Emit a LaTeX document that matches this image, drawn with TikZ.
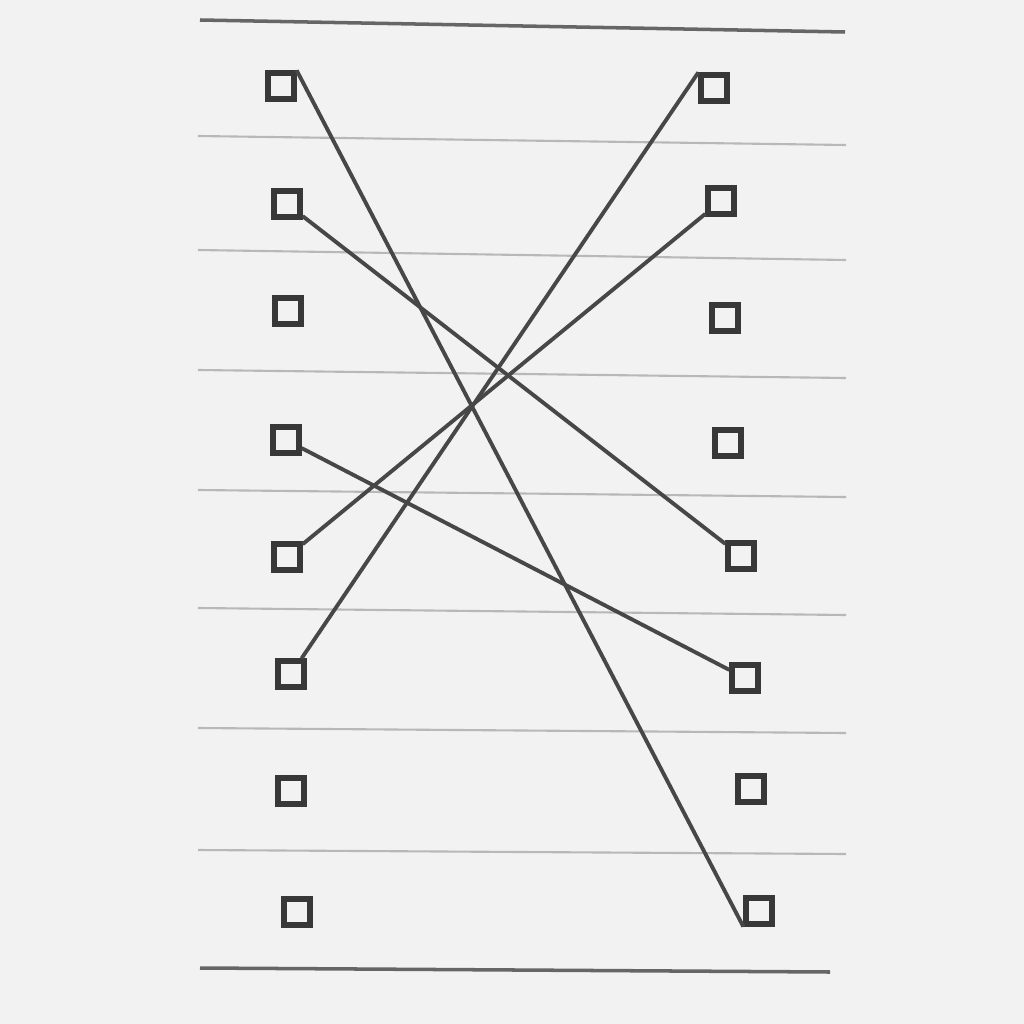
\documentclass[tikz,border=0pt]{standalone}
\begin{document}
\begin{tikzpicture}[x=0.01cm,y=-0.01cm,
  sq/.style={draw=black!78,line width=1.5pt,minimum size=0.26cm,inner sep=0pt,fill=none},
  link/.style={draw=black!72,line width=1.1pt},
  rule/.style={draw=black!28,line width=0.6pt},
  edge/.style={draw=black!60,line width=1pt}]
\fill[black!5] (0,0) rectangle (1024,1024);
\useasboundingbox (0,0) rectangle (1024,1024);
% ruled lines
\draw[edge] (200,20) -- (845,32);
\foreach \ya/\yb in {136/145,250/260,370/378,490/497,608/615,728/733,850/854}
  \draw[rule] (198,\ya) -- (846,\yb);
\draw[edge] (200,968) -- (830,972);
% left squares
\node[sq] (l1) at (281,86) {};
\node[sq] (l2) at (287,204) {};
\node[sq] (l3) at (288,311) {};
\node[sq] (l4) at (286,440) {};
\node[sq] (l5) at (287,557) {};
\node[sq] (l6) at (291,674) {};
\node[sq] (l7) at (291,791) {};
\node[sq] (l8) at (297,912) {};
% right squares
\node[sq] (r1) at (714,88) {};
\node[sq] (r2) at (721,201) {};
\node[sq] (r3) at (725,318) {};
\node[sq] (r4) at (728,443) {};
\node[sq] (r5) at (741,556) {};
\node[sq] (r6) at (745,678) {};
\node[sq] (r7) at (751,789) {};
\node[sq] (r8) at (759,911) {};
% connectors
\draw[link] (l1.north east) -- (r8.south west);
\draw[link] (l2) -- (r5);
\draw[link] (l4) -- (r6);
\draw[link] (l5) -- (r2);
\draw[link] (l6) -- (r1.north west);
\end{tikzpicture}
\end{document}
